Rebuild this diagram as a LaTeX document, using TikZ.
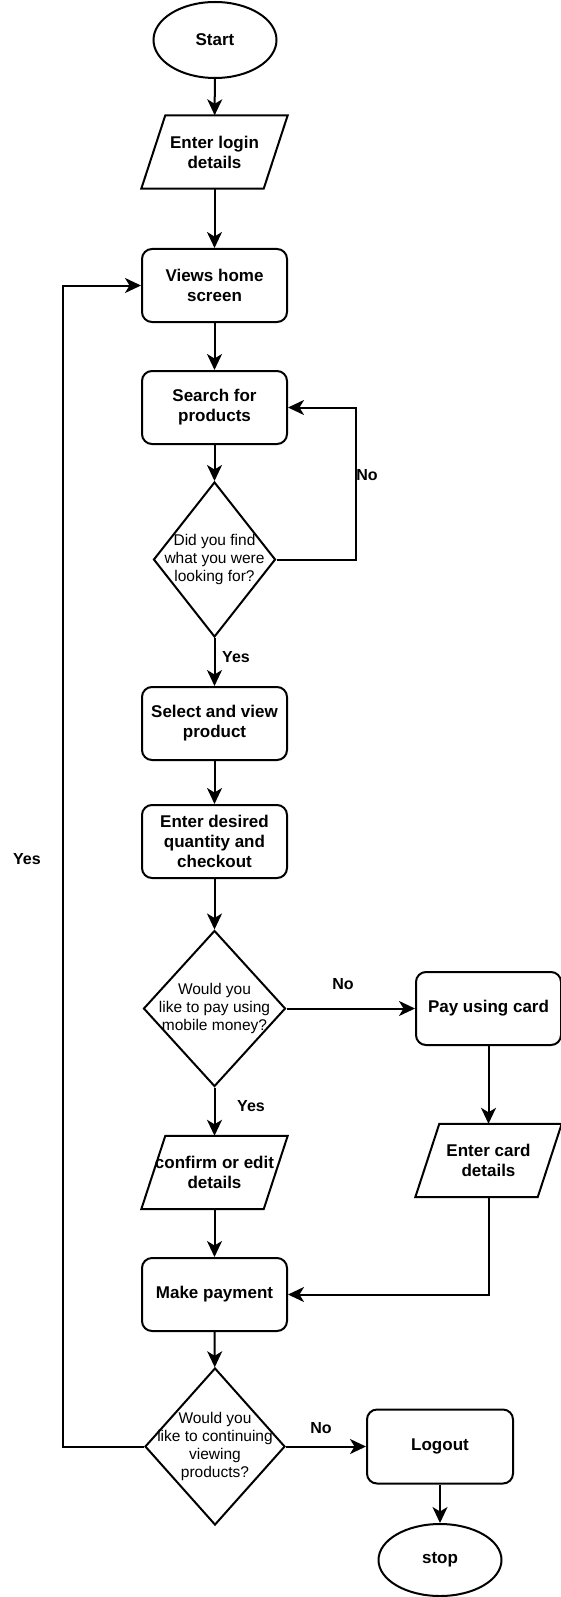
\documentclass[tikz,border=0pt]{standalone}
\usepackage{fontspec}
\setmainfont{Liberation Sans}
\usetikzlibrary{shapes.geometric,arrows.meta}

\newcommand{\flowboxfont}{\bfseries\fontsize{17}{20}\selectfont}
\newcommand{\flowqfont}{\fontsize{15.5}{17.7}\selectfont}
\newcommand{\flowlblfont}{\bfseries\fontsize{16}{19}\selectfont}

\tikzset{
  base/.style={draw, line width=2pt, inner sep=0pt, font=\flowboxfont, align=center},
  proc/.style={base, rectangle, rounded corners=10pt, minimum width=145pt, minimum height=73pt},
  term/.style={base, ellipse, minimum width=123pt, minimum height=76pt},
  iobox/.style={rectangle, inner sep=0pt, font=\flowboxfont, align=center,
                minimum width=122pt, minimum height=73pt},
  decision/.style={base, diamond, minimum width=#1},
  qtext/.style={align=center, font=\flowqfont, inner sep=0pt},
  lbl/.style={font=\flowlblfont, inner sep=0pt},
  arr/.style={line width=2pt, -{Stealth[length=16pt, width=15pt, inset=4.5pt]}},
  ln/.style={line width=2pt, line join=miter}
}

% slanted input/output frame around an iobox node
\newcommand{\ioframe}[1]{%
  \draw[ln] ([xshift=12pt]#1.north west) -- ([xshift=12pt]#1.north east)
    -- ([xshift=-12pt]#1.south east) -- ([xshift=-12pt]#1.south west) -- cycle;}

\begin{document}
\begin{tikzpicture}[x=1pt,y=-1pt]
\useasboundingbox (0,0) rectangle (561,1597);

% main column
\node[term] (start) at (215,40) {Start};
\node[iobox] (login) at (214.5,152) {Enter login\\details};
\ioframe{login}
\node[proc] (home) at (214.5,285.5) {Views home\\screen};
\node[proc] (search) at (214.5,407.5) {Search for\\products};
\node[decision=122pt, minimum height=155pt,
      label={[qtext]center:{Did you find\\what you were\\looking for?}}] (find) at (214.5,559.5) {};
\node[proc] (select) at (214.5,723.5) {Select and view\\product};
\node[proc] (qty) at (214.5,841.5) {Enter desired\\quantity and\\checkout};
\node[decision=142pt, minimum height=156pt,
      label={[qtext]center:{Would you\\like to pay using\\mobile money?}}] (mobile) at (214.5,1008.5) {};
\node[iobox] (confirm) at (214.5,1172.5) {confirm or edit\\details};
\ioframe{confirm}
\node[proc] (pay) at (214.5,1294.5) {Make payment};
\node[decision=140pt, minimum height=157pt,
      label={[qtext]center:{Would you\\like to continuing\\viewing\\products?}}] (again) at (215,1446.5) {};

% card branch
\node[proc] (card) at (488.5,1008.5) {Pay using card};
\node[iobox] (carddet) at (488.5,1160.5) {Enter card\\details};
\ioframe{carddet}

% exit branch
\node[proc, minimum width=146pt, minimum height=74pt] (logout) at (440,1446.5) {Logout};
\node[term, minimum height=72pt] (stop) at (440,1560) {stop};

% loop corners
\coordinate (findloop) at (356,559.5);
\coordinate (homeloop) at (63,1446.5);

% connectors
\draw[arr] (start) -- (login);
\draw[arr] (login) -- (home);
\draw[arr] (home) -- (search);
\draw[arr] (search) -- (find);
\draw[arr] (find) -- (select);
\draw[arr] (select) -- (qty);
\draw[arr] (qty) -- (mobile);
\draw[arr] (mobile.east) -- (card.west);
\draw[arr] (mobile) -- (confirm);
\draw[arr] (card) -- (carddet);
\draw[arr] (confirm) -- (pay);
\draw[arr] (carddet.south) |- (pay.east);
\draw[arr] (pay) -- (again);
\draw[arr] (again.east) -- (logout.west);
\draw[arr] (logout) -- (stop);
\draw[arr] (find.east) -- (findloop) |- (search.east);
\draw[arr] (again.west) -- (homeloop) |- (home.west);

% branch labels
\node[lbl] (yesfind) at (236,657) {Yes};
\node[lbl] (nofind) at (367,475) {No};
\node[lbl] (nomobile) at (343,984) {No};
\node[lbl] (yesmobile) at (251,1106) {Yes};
\node[lbl] (noagain) at (321,1428) {No};
\node[lbl] (yesagain) at (27,859) {Yes};
\end{tikzpicture}
\end{document}
